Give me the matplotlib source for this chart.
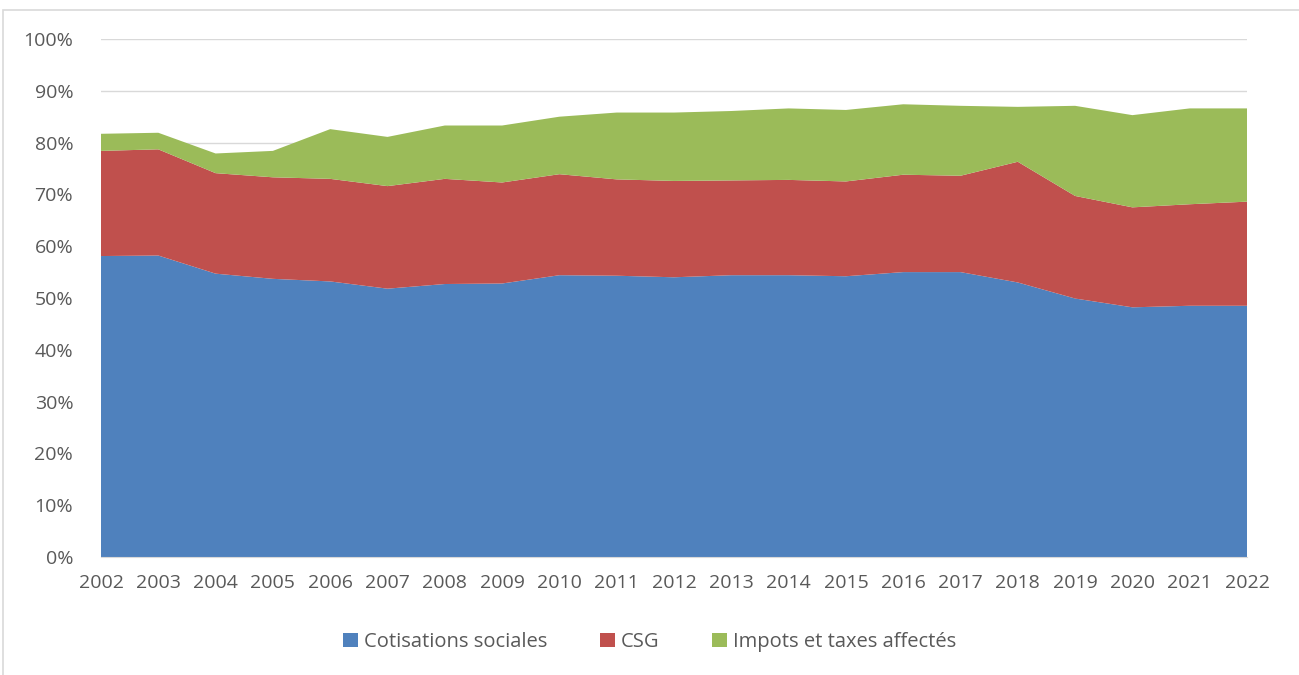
import numpy as np
import matplotlib.pyplot as plt
from matplotlib.patches import Rectangle
from matplotlib.ticker import FuncFormatter

years = list(range(2002, 2023))
cotisations = [58.1, 58.2, 54.7, 53.7, 53.2, 51.8, 52.7, 52.8, 54.4, 54.3, 54.0,
               54.4, 54.4, 54.2, 55.0, 55.0, 53.0, 49.9, 48.2, 48.5, 48.5]
csg = [20.3, 20.5, 19.4, 19.6, 19.8, 19.8, 20.3, 19.5, 19.5, 18.6, 18.6,
       18.3, 18.4, 18.3, 18.8, 18.6, 23.3, 19.8, 19.3, 19.6, 20.1]
impots = [3.3, 3.2, 3.8, 5.1, 9.6, 9.5, 10.3, 11.0, 11.1, 12.9, 13.2,
          13.4, 13.8, 13.8, 13.6, 13.5, 10.6, 17.4, 17.8, 18.5, 18.0]
labels = ["Cotisations sociales", "CSG", "Impots et taxes affectés"]
colors = ["#4F81BD", "#C0504D", "#9BBB59"]

plt.rcParams['font.family'] = ['Open Sans', 'DejaVu Sans']
txt = "#595959"

fig = plt.figure(figsize=(12.99, 6.75), dpi=100)
ax = fig.add_axes([101/1299, 118/675, (1247-101)/1299, (557-39)/675])

# frame of the chart area
fig.patches.append(Rectangle((3/1299, -0.1), 1.2, 1 - 10/675 + 0.1,
                             transform=fig.transFigure, fill=False,
                             edgecolor="#D9D9D9", linewidth=1.2))

ax.stackplot(years, np.array(cotisations)/100, np.array(csg)/100, np.array(impots)/100,
             colors=colors, labels=labels, zorder=2)

ax.set_xlim(2002, 2022)
ax.set_ylim(0, 1)
ax.set_yticks(np.arange(0, 1.01, 0.1))
ax.yaxis.set_major_formatter(FuncFormatter(lambda v, p: f"{v*100:.0f}%"))
ax.set_xticks(years)
ax.grid(axis='y', color="#D9D9D9", linewidth=1, zorder=0)
ax.set_axisbelow(True)
for s in ['top', 'right', 'left']:
    ax.spines[s].set_visible(False)
ax.spines['bottom'].set_color("#D9D9D9")
ax.tick_params(axis='both', length=0, labelsize=14, colors=txt)
ax.tick_params(axis='y', pad=20)
ax.tick_params(axis='x', pad=12)

fig.legend(*ax.get_legend_handles_labels(), loc='center', ncol=3,
           bbox_to_anchor=(0.5, 1 - 642/675), frameon=False, fontsize=14.5,
           labelcolor=txt, handlelength=0.75, handleheight=0.75, columnspacing=2.6,
           handletextpad=0.3)

fig.savefig("out.png", dpi=100)
